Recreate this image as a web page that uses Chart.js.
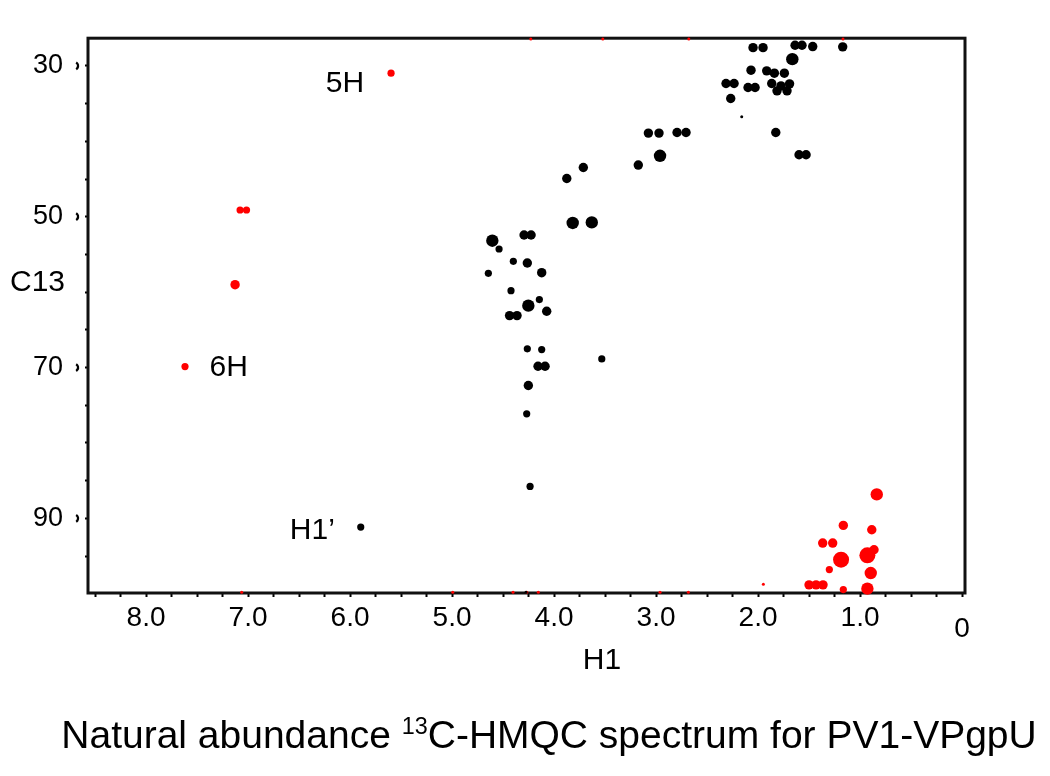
<!DOCTYPE html>
<html><head><meta charset="utf-8">
<script src="https://cdn.jsdelivr.net/npm/chart.js@4.4.1/dist/chart.umd.min.js"></script>
<style>
html,body{margin:0;padding:0;background:#fff;width:1050px;height:776px;overflow:hidden;}
#wrap{position:absolute;left:0;top:0;width:1050px;height:776px;}
#title{position:absolute;left:24px;top:713px;width:1050px;text-align:center;font-family:"Liberation Sans",Arial,sans-serif;font-size:39px;line-height:normal;color:#000;white-space:nowrap;}
#title sup{font-size:0.6em;vertical-align:0.6em;line-height:0;}
</style></head>
<body>
<div id="wrap"><canvas id="c" width="1050" height="776"></canvas></div>
<div id="title">Natural abundance <sup>13</sup>C-HMQC spectrum for PV1-VPgpU</div>
<script>
// ---- data (1H ppm, 13C ppm, relative intensity class) ----
const blackH1 = [2.049,1.951,1.637,1.569,1.464,1.170,1.664,2.069,1.915,1.840,1.742,2.314,2.235,2.098,2.029,1.866,1.775,1.691,1.814,1.716,2.268,2.160,2.794,2.706,3.075,2.971,1.826,1.598,1.529,2.961,3.174,3.713,3.875,3.817,3.630,4.294,4.225,4.605,4.539,4.399,4.262,4.644,4.121,4.422,4.252,4.144,4.436,4.363,4.072,4.262,4.121,4.157,4.088,3.532,4.252,4.268,4.235,5.895,4.275];
const blackC13 = [27.58,27.58,27.26,27.26,27.44,27.48,29.11,30.57,30.66,30.97,30.97,32.34,32.34,32.87,32.87,32.34,32.65,32.38,33.31,33.31,34.33,36.75,38.83,38.83,38.91,38.91,38.83,41.79,41.79,41.92,43.15,43.47,44.93,50.83,50.75,52.42,52.42,53.18,54.28,55.92,56.13,57.51,57.42,59.80,61.79,60.99,63.11,63.11,62.54,67.52,67.62,69.83,69.83,68.85,72.38,76.13,85.76,91.15,99.80];
const blackIntensity = [2,2,2,2,2,2,3,2,2,2,2,2,2,2,2,2,2,2,2,2,2,0,2,2,2,2,2,2,2,3,2,2,2,3,3,2,2,3,1,1,2,1,2,1,3,1,2,2,2,1,1,2,2,1,2,1,1,1,0];

const redH1 = [5.598,7.078,7.015,7.127,7.618,0.836,1.164,0.885,1.366,1.268,0.863,0.928,1.186,1.301,0.895,1.500,1.431,1.363,0.928,1.164,1.948,4.228,3.522,2.679,1.167,7.062,4.993,4.402,4.268,4.154,2.961,2.683];
const redC13 = [30.97,49.11,49.11,59.01,69.87,86.82,90.93,91.50,93.27,93.27,94.15,94.90,95.47,96.79,97.24,98.81,98.81,98.81,99.31,99.44,98.74,26.45,26.45,26.45,26.45,99.80,99.80,99.80,99.80,99.80,99.80,99.80];
const redIntensity = [1,1,1,2,1,3,2,2,2,2,2,4,4,1,3,2,2,2,3,1,0,0,0,0,0,0,0,0,0,0,0,0];

// ---- axes / tick labels ----
const xLabelValues = [8,7,6,5,4,3,2,1,0];
const xTickLabels = ['8.0','7.0','6.0','5.0','4.0','3.0','2.0','1.0','0'];
const xMinorStep = 0.25;
const yLabelValues = [30,50,70,90];
const yTickLabels = ['30','50','70','90'];
const yMinorTicks = [30,35,40,45,50,55,60,65,70,75,80,85,90,95];
const xRange = [-0.029, 8.569];
const yRange = [26.33, 99.89];
const xAxisTitle = 'H1';
const yAxisTitle = 'C13';
const peakLabels = [
  {text:'5H', h1:6.05, c13:32.42},
  {text:'6H', h1:7.19, c13:69.96},
  {text:'H1\u2019', h1:6.37, c13:91.59}
];

// ---- styling ----
const FONT = '"Liberation Sans", Arial, sans-serif';
const radiusByIntensity = [1.5, 3.6, 4.7, 6.2, 8];
const xMinorTicks = [];
for (let v = 8.5; v >= 0; v -= xMinorStep) xMinorTicks.push(v);

const toPts = (xs, ys) => xs.map((x, i) => ({x: x, y: ys[i]}));

const framePlugin = {
  id: 'frame',
  beforeDatasetsDraw(chart) {
    const {ctx, chartArea: a} = chart;
    ctx.save();
    ctx.strokeStyle = '#111';
    ctx.lineWidth = 3;
    ctx.strokeRect(a.left, a.top, a.right - a.left, a.bottom - a.top);
    // major y tick markers
    const y = chart.scales.y;
    ctx.lineWidth = 2.4;
    ctx.strokeStyle = '#000';
    yLabelValues.forEach(v => {
      const py = y.getPixelForValue(v);
      ctx.beginPath();
      ctx.arc(74, py, 4, -1.0, 1.0);
      ctx.stroke();
    });
    ctx.restore();
  },
  afterDraw(chart) {
    const {ctx} = chart;
    const xs = chart.scales.x, ys = chart.scales.y;
    ctx.save();
    ctx.fillStyle = '#000';
    ctx.textAlign = 'center';
    ctx.textBaseline = 'middle';
    ctx.font = '30px ' + FONT;
    peakLabels.forEach(p => {
      ctx.fillText(p.text, xs.getPixelForValue(p.h1), ys.getPixelForValue(p.c13));
    });
    ctx.fillText(xAxisTitle, xs.getPixelForValue(3.53), 661);
    ctx.fillText(yAxisTitle, 37.5, ys.getPixelForValue(58.81));
    ctx.restore();
  }
};

new Chart(document.getElementById('c').getContext('2d'), {
  type: 'scatter',
  data: {
    datasets: [
      {
        label: 'HMQC (positive)',
        data: toPts(blackH1, blackC13),
        pointBackgroundColor: '#000',
        pointBorderWidth: 0,
        pointRadius: c => radiusByIntensity[blackIntensity[c.dataIndex]],
        clip: false
      },
      {
        label: 'HMQC (negative)',
        data: toPts(redH1, redC13),
        pointBackgroundColor: '#ff0000',
        pointBorderWidth: 0,
        pointRadius: c => radiusByIntensity[redIntensity[c.dataIndex]],
        clip: false
      }
    ]
  },
  options: {
    responsive: false,
    animation: false,
    devicePixelRatio: 1,
    layout: {padding: {top: 37, right: 85, left: 0, bottom: 0}},
    plugins: {legend: {display: false}, tooltip: {enabled: false}},
    scales: {
      x: {
        type: 'linear', reverse: true, min: xRange[0], max: xRange[1], position: 'bottom',
        afterBuildTicks: s => { s.ticks = xMinorTicks.map(v => ({value: v})); },
        afterFit: s => { s.height = 183; },
        border: {display: false},
        grid: {drawOnChartArea: false, drawTicks: true, tickLength: 4, tickColor: '#000', tickWidth: 2},
        ticks: {
          autoSkip: false, maxRotation: 0, minRotation: 0, color: '#000', padding: 4,
          font: c => (c.tick && c.tick.value === 0) ? {family: FONT, size: 28, lineHeight: 0.68} : {family: FONT, size: 28},
          callback: v => {
            const i = xLabelValues.indexOf(v);
            if (i < 0) return '';
            return v === 0 ? ['', xTickLabels[i]] : xTickLabels[i];
          }
        }
      },
      y: {
        type: 'linear', reverse: true, min: yRange[0], max: yRange[1], position: 'left',
        afterBuildTicks: s => { s.ticks = yMinorTicks.map(v => ({value: v})); },
        afterFit: s => { s.width = 88; },
        border: {display: false},
        grid: {drawOnChartArea: false, drawTicks: true, tickLength: 3, tickColor: '#000', tickWidth: 2},
        ticks: {
          autoSkip: false, color: '#000', padding: 22,
          font: {family: FONT, size: 27},
          callback: v => {
            const i = yLabelValues.indexOf(v);
            return i < 0 ? '' : yTickLabels[i];
          }
        }
      }
    }
  },
  plugins: [framePlugin]
});
</script>
</body></html>
